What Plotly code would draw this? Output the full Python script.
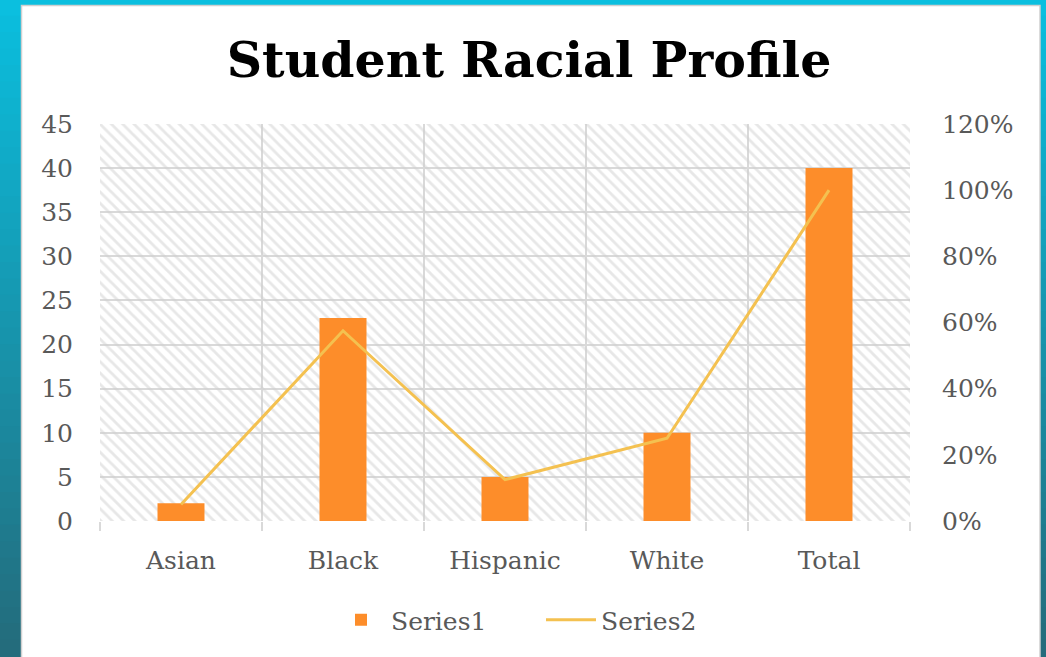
import plotly.graph_objects as go

categories = ["Asian", "Black", "Hispanic", "White", "Total"]
series1 = [2, 23, 5, 10, 40]
series2 = [0.05, 0.575, 0.125, 0.25, 1.0]
left_ticks = [0, 5, 10, 15, 20, 25, 30, 35, 40, 45]
right_ticks = [0, 0.2, 0.4, 0.6, 0.8, 1.0, 1.2]

W, H = 1046, 657
L, R, T, B = 100, 1046 - 910, 124, 657 - 521

FONT = "DejaVu Serif"
TXT = "#595959"
FS = 25

fig = go.Figure()

# hatched plot area background
fig.add_trace(go.Bar(
    x=["Hispanic"], y=[45], base=0, width=5,
    marker=dict(color="rgba(0,0,0,0)", line=dict(width=0),
                pattern=dict(shape="\\", fgcolor="#cfcfcf", bgcolor="rgba(0,0,0,0)",
                             size=8, solidity=0.35, fillmode="overlay")),
    showlegend=False, hoverinfo="skip", yaxis="y",
))

fig.add_trace(go.Bar(
    x=categories, y=series1, name="Series1", width=0.29,
    marker=dict(color="#fd8d2a", line=dict(width=0)), yaxis="y",
))
fig.add_trace(go.Scatter(
    x=categories, y=series2, name="Series2", mode="lines",
    line=dict(color="#f4c150", width=3), yaxis="y2",
))

# background gradient strips + white panel
shapes = []
n = 40
c0 = (11, 191, 223)
c1 = (36, 108, 124)
for i in range(n):
    t = i / (n - 1)
    col = tuple(int(c0[k] + (c1[k] - c0[k]) * t) for k in range(3))
    y_top = 1 - i / n
    y_bot = 1 - (i + 1) / n
    shapes.append(dict(type="rect", xref="paper", yref="paper",
                       x0=-L / (W - L - R), x1=(W - L) / (W - L - R),
                       y0=(-B + y_bot * H) / (H - T - B) - 0.002,
                       y1=(-B + y_top * H) / (H - T - B) + 0.002,
                       fillcolor="rgb(%d,%d,%d)" % col, line=dict(width=0), layer="below"))
px = lambda x: (x - L) / (W - L - R)
py = lambda y: ((H - y) - B) / (H - T - B)
shapes.append(dict(type="rect", xref="paper", yref="paper",
                   x0=px(21.5), x1=px(1040), y0=py(680), y1=py(5.5),
                   fillcolor="white", line=dict(color="#d0d0d0", width=1.5), layer="below"))

fig.update_layout(
    width=W, height=H,
    margin=dict(l=L, r=R, t=T, b=B),
    paper_bgcolor="white", plot_bgcolor="rgba(0,0,0,0)",
    barmode="overlay",
    shapes=shapes,
    title=dict(text="<b>Student Racial Profile</b>", x=529 / W, xref="container", xanchor="center",
               y=1 - 60 / H, yanchor="middle", yref="container",
               font=dict(family=FONT, size=49, color="black")),
    xaxis=dict(type="category", categoryorder="array", categoryarray=categories,
               range=[-0.5, 4.5], tickson="boundaries", showgrid=True,
               gridcolor="#d9d9d9", gridwidth=1.5, ticks="outside", ticklen=9,
               tickcolor="#d9d9d9", tickwidth=1.5, showline=False, zeroline=False,
               tickfont=dict(family=FONT, size=FS, color=TXT), ticklabelstandoff=22,
               fixedrange=True),
    yaxis=dict(range=[0, 45], tickvals=left_ticks, showgrid=True, gridcolor="#d9d9d9",
               gridwidth=1.5, zeroline=False, showline=False, ticks="",
               tickfont=dict(family=FONT, size=FS, color=TXT), ticklabelstandoff=26),
    yaxis2=dict(range=[0, 1.2], tickvals=right_ticks, tickformat=".0%", overlaying="y",
                side="right", showgrid=False, zeroline=False, showline=False,
                tickfont=dict(family=FONT, size=FS, color=TXT), ticklabelstandoff=31),
    legend=dict(orientation="h", x=541 / W, xref="container", xanchor="center",
                y=1 - 620 / H, yref="container", yanchor="middle",
                font=dict(family=FONT, size=FS, color=TXT), bgcolor="rgba(0,0,0,0)",
                itemwidth=50, entrywidth=145, entrywidthmode="pixels"),
    showlegend=True,
)

fig.write_html("out.html", post_script="document.body.style.margin='0';",
               config={"displayModeBar": False})
